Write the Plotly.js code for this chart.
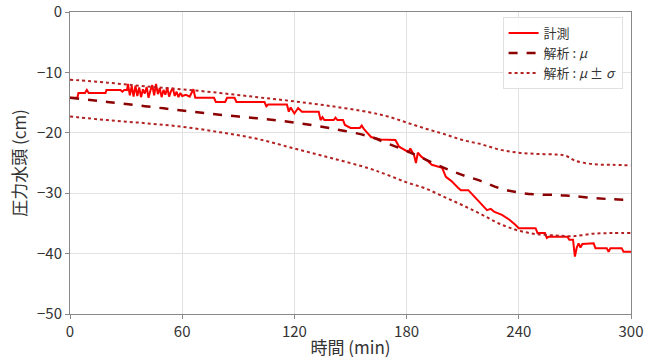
<!DOCTYPE html>
<html>
<head>
<meta charset="utf-8">
<script src="https://cdn.plot.ly/plotly-3.0.1.min.js"></script>
<style>html,body{margin:0;padding:0;background:#fff;}#chart{width:655px;height:361px;}</style>
</head>
<body>
<div id="chart"></div>
<script>
// Measured (計測)
const measT = [0,4,4.5,8,9,10,19,19.5,27,28,29,30.5,
  31,32,33,34,35,36,37,38,39,40,41,42,43,44,45,46,47,48,49,50,51,52,53,54,55,56,57,58,59,60,62,64,66,67,
  77,78,83,84,88,89,104,105,106,116,117,118,120,122,124,133,134,135,136,141,142,143,146,147,150,155,156,157,159,161,166,
  174,176,179,181,182,184,185,186,188,191,193.5,199,201,204,207.5,209,213,216,219,223,225,227,231,235,238,240,
  249,250,254,255,256,266,267,269,270,271,272,273,274,280,281,287,288,289,295,296,300];
const measY = [-14.2,-14.2,-13.4,-13.4,-12.9,-13.4,-13.4,-12.9,-12.9,-13.2,-12.9,-12.9,
  -11.9,-13.8,-12.3,-14.0,-12.2,-13.9,-12.5,-14.1,-12.8,-13.5,-12.4,-14.2,-13.0,-12.1,-13.8,-11.9,-13.6,-12.6,-14.1,-12.9,-13.7,-12.5,-14.0,-13.1,-12.6,-13.9,-13.2,-14.1,-13.4,-13.9,-13.7,-14.0,-12.8,-14.2,
  -14.2,-14.9,-14.9,-14.2,-14.2,-14.9,-14.9,-15.6,-15.3,-15.3,-16.5,-15.8,-16.8,-15.9,-16.5,-16.5,-17.9,-17.4,-17.9,-17.9,-17.5,-17.9,-17.9,-18.7,-19.2,-19.2,-18.8,-19.3,-20.0,-20.7,-21.1,
  -21.2,-22.3,-22.8,-23.2,-22.6,-23.7,-25.0,-23.3,-24.0,-24.6,-25.3,-25.8,-27.3,-28.0,-29.1,-29.5,-29.5,-30.5,-31.5,-32.8,-32.6,-33.1,-33.6,-34.4,-35.2,-35.8,
  -35.8,-36.6,-36.6,-37.4,-37.2,-37.2,-37.7,-37.7,-40.5,-39.0,-38.3,-39.0,-38.4,-38.3,-39.1,-39.1,-39.7,-39.1,-39.1,-39.7,-39.7];

// Analysis (解析)
const anaT = [0,20,40,60,80,100,120,140,160,170,180,190,200,210,220,230,240,250,260,265,270,280,290,300];
const anaMean = [-14.2,-14.9,-15.6,-16.3,-17.0,-17.6,-18.3,-19.3,-20.6,-21.8,-23.0,-24.4,-25.8,-27.0,-28.0,-29.2,-29.9,-30.2,-30.3,-30.4,-30.5,-30.8,-31.0,-31.1];
const anaUpper = [-11.2,-11.7,-12.3,-12.8,-13.4,-14.1,-14.8,-15.6,-16.6,-17.3,-18.3,-19.3,-20.2,-21.2,-21.9,-22.8,-23.3,-23.5,-23.6,-23.8,-24.6,-25.2,-25.3,-25.4];
const anaLower = [-17.3,-17.9,-18.4,-19.0,-19.9,-21.0,-22.6,-24.2,-25.9,-27.0,-28.2,-29.2,-30.6,-32.0,-33.5,-35.1,-36.2,-36.8,-37.0,-37.1,-37.1,-36.7,-36.6,-36.6];

const xTicks = [0,60,120,180,240,300];
const yTicks = [0,-10,-20,-30,-40,-50];
const names = ['計測','解析 : <i>μ</i>','解析 : <i>μ</i> ± <i>σ</i>'];

const font = '"Noto Sans CJK JP", "Noto Sans", sans-serif';
const traces = [
  {x: measT, y: measY, mode: 'lines', name: names[0], line: {color: '#ff0000', width: 2}},
  {x: anaT, y: anaMean, mode: 'lines', name: names[1], line: {color: '#8b0000', width: 2.5, dash: 'dash', shape: 'spline'}},
  {x: anaT, y: anaUpper, mode: 'lines', name: names[2], legendgroup: 'sig', line: {color: '#b22222', width: 2, dash: 'dot', shape: 'spline'}},
  {x: anaT, y: anaLower, mode: 'lines', name: names[2], legendgroup: 'sig', showlegend: false, line: {color: '#b22222', width: 2, dash: 'dot', shape: 'spline'}}
];
const axisCommon = {
  showline: true, linecolor: '#888', linewidth: 1, mirror: true,
  showgrid: true, gridcolor: '#e2e2e2', gridwidth: 1,
  ticks: 'outside', ticklen: 4, tickcolor: '#888',
  zeroline: false, tickfont: {family: font, size: 15, color: '#333'}
};
const layout = {
  width: 655, height: 361,
  margin: {l: 70, r: 24, t: 12, b: 47},
  paper_bgcolor: '#fff', plot_bgcolor: '#fff',
  font: {family: font, color: '#333'},
  xaxis: Object.assign({}, axisCommon, {range: [0, 300], tickvals: xTicks,
    title: {text: '時間 (min)', font: {family: font, size: 17, color: '#333'}, standoff: 2}}),
  yaxis: Object.assign({}, axisCommon, {range: [-50, 0], tickvals: yTicks,
    title: {text: '圧力水頭 (cm)', font: {family: font, size: 17, color: '#333'}, standoff: 6}}),
  legend: {x: 0.985, y: 0.983, xanchor: 'right', yanchor: 'top',
    bgcolor: 'rgba(255,255,255,0.9)', bordercolor: '#e0e0e0', borderwidth: 1,
    font: {family: font, size: 13, color: '#333'}, tracegroupgap: 0},
  showlegend: true
};
Plotly.newPlot('chart', traces, layout, {staticPlot: true, displayModeBar: false});
</script>
</body>
</html>
